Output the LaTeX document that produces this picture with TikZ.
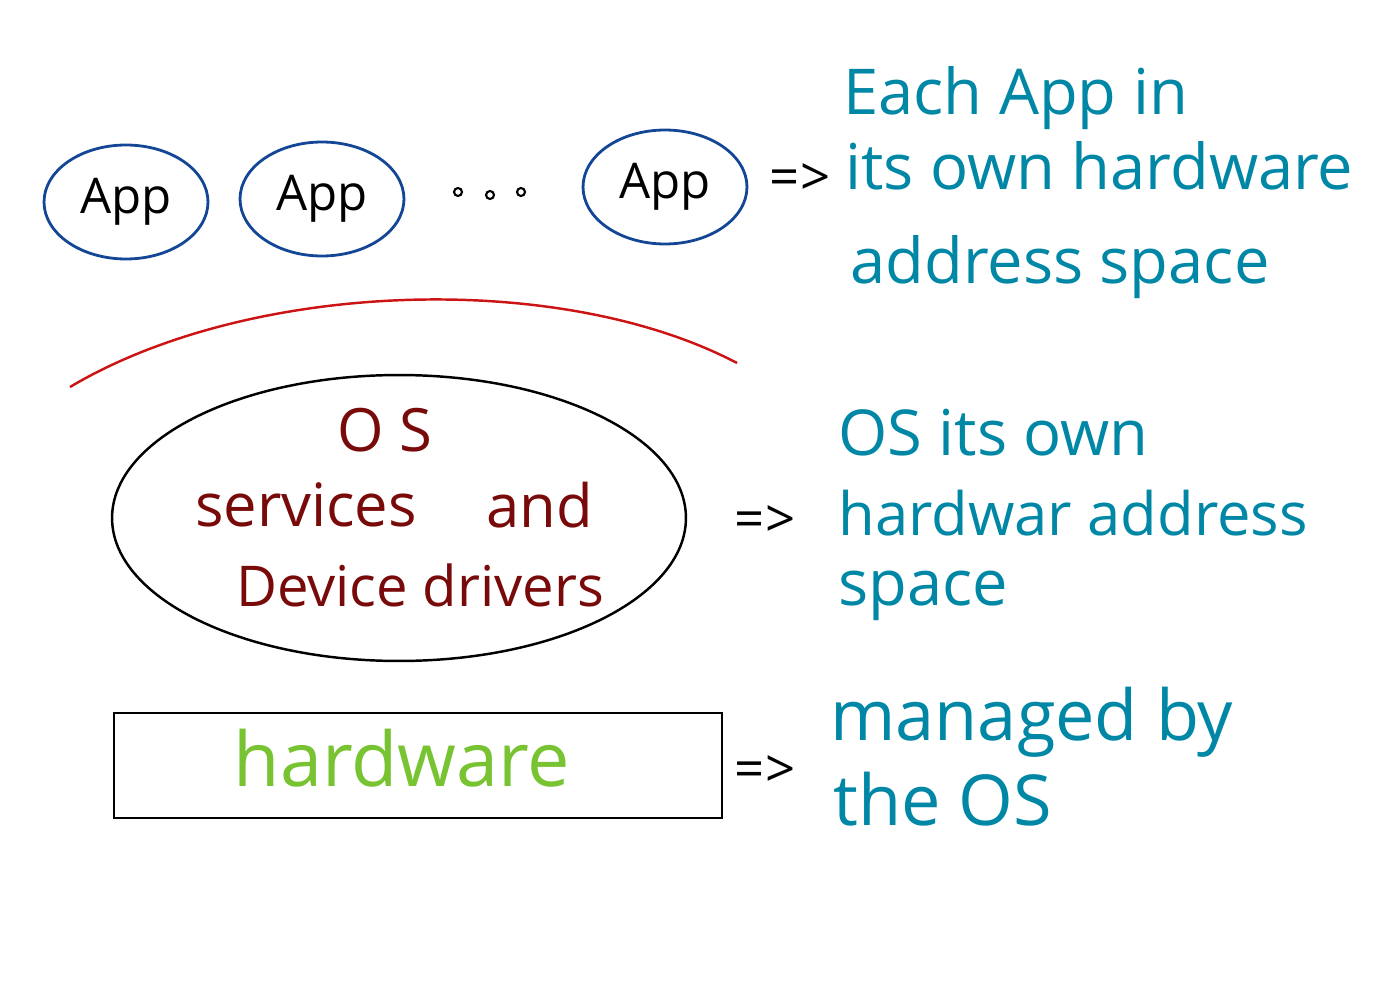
\documentclass[tikz,border=0pt]{standalone}
\usepackage{fontspec}
\setmainfont{Open Sans}
\usepackage{tikz}
\usetikzlibrary{arrows.meta,positioning,shapes.geometric,calc}
\definecolor{appblue}{RGB}{20,70,150}
\definecolor{osred}{RGB}{120,10,10}
\definecolor{hwgreen}{RGB}{120,195,50}
\definecolor{noteteal}{RGB}{0,135,165}
\definecolor{archred}{RGB}{205,20,20}
\tikzset{
  app/.style={ellipse,draw=appblue,line width=1.6pt,minimum width=3.28cm,
              minimum height=2.28cm,inner sep=0pt,font=\fontsize{28}{30}\selectfont},
  osbox/.style={ellipse,draw=black,line width=1.4pt,minimum width=11.48cm,
              minimum height=5.72cm,inner sep=0pt},
  hwbox/.style={draw=black,line width=1.4pt,minimum width=12.16cm,
              minimum height=2.1cm,inner sep=0pt},
  ostext/.style={text=osred,font=\fontsize{34}{36}\selectfont},
  note/.style={text=noteteal,anchor=base west,inner sep=0pt,
               font=\fontsize{36}{40}\selectfont},
  impl/.style={anchor=center,inner sep=0pt,font=\fontsize{30}{32}\selectfont},
}
\begin{document}
\begin{tikzpicture}[x=0.02cm,y=-0.02cm]
  \useasboundingbox (0,0) rectangle (1392,1000);
  % applications
  \node[app] (app1) at (126,202) {App};
  \node[app] (app2) at (322,199) {App};
  \node[app] (app3) at (665,187) {App};
  \foreach \x/\y in {458/192,490/195,521/192}
    {\draw[line width=1.2pt] (\x,\y) circle (4);}
  \node[impl] (implapp) at (800,180) {=>};
  \node[note] (noteapp1) at (843,115) {Each App in};
  \node[note] (noteapp2) at (845,190) {its own hardware};
  \node[note] (noteapp3) at (850,283) {address space};
  % boundary
  \draw[archred,line width=1.4pt] (70,387) .. controls (250,280) and (560,270) .. (737,363);
  % operating system
  \node[osbox] (os) at (399,518) {};
  \node[ostext] (ostitle) at (385,430) {O S};
  \node[ostext] (osserv) at (306,505) {services};
  \node[ostext] (osand) at (540,505) {and};
  \node[ostext,font=\fontsize{32}{34}\selectfont] (osdev) at (420,585) {Device drivers};
  \node[impl] (implos) at (765,522) {=>};
  \node[note] (noteos1) at (838,455) {OS its own};
  \node[note,font=\fontsize{34}{38}\selectfont] (noteos2) at (838,535) {hardwar address};
  \node[note] (noteos3) at (838,605) {space};
  % hardware
  \node[hwbox] (hw) at (418,765.5) {};
  \node[text=hwgreen,font=\fontsize{43}{45}\selectfont] (hwtext) at (402,758) {hardware};
  \node[impl] (implhw) at (765,772) {=>};
  \node[note,font=\fontsize{40}{44}\selectfont] (notehw1) at (830,740) {managed by};
  \node[note,font=\fontsize{40}{44}\selectfont] (notehw2) at (833,825) {the OS};
\end{tikzpicture}
\end{document}
